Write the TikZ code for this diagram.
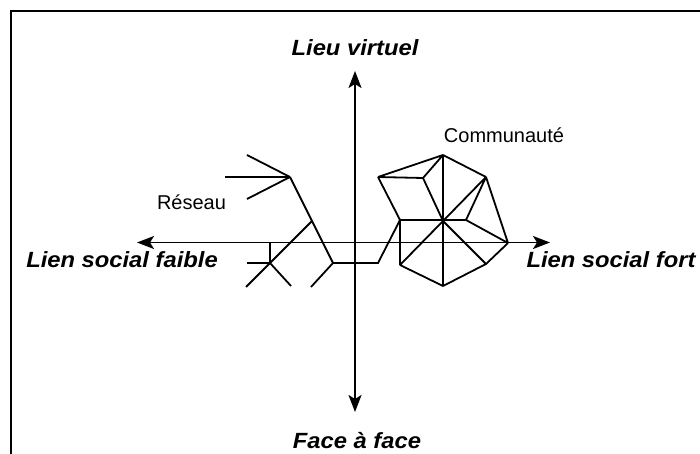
\documentclass[tikz,border=0pt]{standalone}
\usepackage{fontspec}
\setmainfont{Liberation Sans}
\usetikzlibrary{arrows.meta}
\begin{document}
\begin{tikzpicture}[x=1pt,y=-1pt,
  ln/.style={line width=1.8pt},
  axisline/.style={line width=1.8pt,{Stealth[length=17pt,width=13pt,inset=4pt]}-{Stealth[length=17pt,width=13pt,inset=4pt]}},
  axislabel/.style={font=\fontsize{22}{26}\selectfont\bfseries\itshape, inner sep=0pt},
  smalllabel/.style={font=\fontsize{20}{24}\selectfont, inner sep=0pt}]
\useasboundingbox (0,0) rectangle (700,454);
% frame
\coordinate (fbl) at (11,456);
\coordinate (ftl) at (11,11);
\coordinate (ftr) at (702,11);
\draw[line width=2.2pt] (fbl) -- (ftl) -- (ftr);
% axes
\coordinate (axL) at (137,242.5);
\coordinate (axR) at (550,242.5);
\coordinate (axT) at (355,71);
\coordinate (axB) at (355,412);
\draw[axisline] (axL) -- (axR);
\draw[axisline] (axT) -- (axB);
% labels
\node[axislabel] (lv) at (355,48) {\scalebox{1.08}[1]{Lieu virtuel}};
\node[axislabel] (ff) at (357,441) {\scalebox{1.08}[1]{Face à face}};
\node[axislabel] (lsf) at (122,260) {\scalebox{1.08}[1]{Lien social faible}};
\node[axislabel] (lsF) at (611,260) {\scalebox{1.08}[1]{Lien social fort}};
\node[smalllabel] (res) at (191.5,202) {Réseau};
\node[smalllabel] (com) at (504,135) {Communauté};
% network (Reseau)
\coordinate (n1) at (290,177);
\coordinate (s1) at (247,155);
\coordinate (s2) at (225,177);
\coordinate (s3) at (247,199);
\coordinate (n2) at (333,263);
\coordinate (p) at (312,221);
\coordinate (x) at (270,263);
\coordinate (q) at (246,287);
\coordinate (xu) at (270,242.5);
\coordinate (xl) at (247,263);
\coordinate (xr) at (291,286);
\coordinate (n2l) at (311,287);
\coordinate (n3) at (378,263);
% community
\coordinate (A) at (400,220);
\coordinate (B) at (378,177);
\coordinate (C) at (423,178);
\coordinate (D) at (443,155);
\coordinate (E) at (443,221);
\coordinate (F) at (486,177);
\coordinate (G) at (466,220);
\coordinate (H) at (508,243);
\coordinate (I) at (486,264);
\coordinate (J) at (443,286);
\coordinate (K) at (400,265);
\draw[ln] (s1) -- (n1) (s2) -- (n1) (s3) -- (n1);
\draw[ln] (n1) -- (n2);
\draw[ln] (p) -- (q);
\draw[ln] (xu) -- (x) (xl) -- (x) (x) -- (xr);
\draw[ln] (n2l) -- (n2) -- (n3) -- (A);
\draw[ln] (A) -- (B) (B) -- (C) (B) -- (D) (C) -- (D) (C) -- (E) (D) -- (E)
  (D) -- (F) (F) -- (G) (F) -- (E) (F) -- (H) (G) -- (H)
  (E) -- (I) (H) -- (I) (I) -- (J) (J) -- (K) (E) -- (J) (E) -- (K)
  (A) -- (K) (A) -- (G);
\end{tikzpicture}
\end{document}
